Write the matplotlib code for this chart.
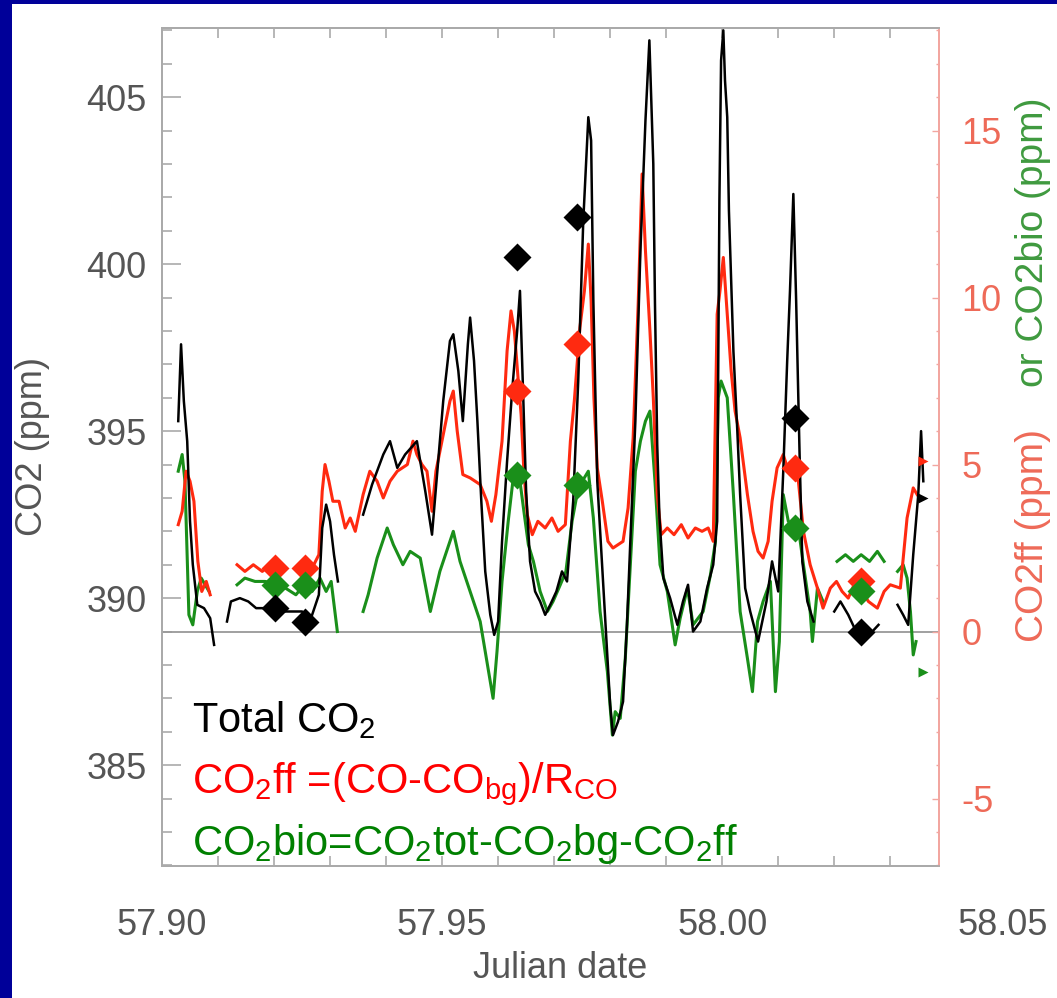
import numpy as np
import matplotlib
matplotlib.use('Agg')
import matplotlib.pyplot as plt
from matplotlib.patches import Rectangle
from matplotlib.ticker import MultipleLocator
from matplotlib import transforms

plt.rcParams['font.family'] = ['Liberation Sans', 'DejaVu Sans']
plt.rcParams['mathtext.default'] = 'regular'
plt.rcParams['axes.unicode_minus'] = False

# %%
# Data (nan = gap in the record)

nan = np.nan

# total CO2 (ppm, left axis)
tot_date = [57.9029, 57.9034, 57.9039, 57.9045, 57.9050, 57.9055, 57.9063, 57.9075, 57.9086, 57.9093, 57.9100,
            57.9116, 57.9123, 57.9139, 57.9154, 57.9168, 57.9182, 57.9202, 57.9229, 57.9250, 57.9264, 57.9280,
            57.9286, 57.9293, 57.9300, 57.9307, 57.9314, 57.9330,
            57.9359, 57.9375, 57.9395, 57.9407, 57.9420, 57.9434, 57.9455, 57.9470, 57.9482, 57.9493, 57.9502,
            57.9514, 57.9520, 57.9529, 57.9537, 57.9546, 57.9550, 57.9557, 57.9563, 57.9570, 57.9577, 57.9586,
            57.9593, 57.9600, 57.9607, 57.9616, 57.9625, 57.9634, 57.9639, 57.9645, 57.9650, 57.9657, 57.9666,
            57.9675, 57.9684, 57.9693, 57.9704, 57.9714, 57.9723, 57.9734, 57.9743, 57.9752, 57.9761, 57.9766,
            57.9770, 57.9777, 57.9788, 57.9800, 57.9805, 57.9814, 57.9823, 57.9830, 57.9836, 57.9845, 57.9854,
            57.9863, 57.9870, 57.9877, 57.9880, 57.9884, 57.9888, 57.9895, 57.9907, 57.9920, 57.9930, 57.9939,
            57.9948, 57.9961, 57.9973, 57.9984, 57.9991, 57.9995, 57.9998, 58.0002, 58.0005, 58.0009, 58.0012,
            58.0020, 58.0027, 58.0032, 58.0041, 58.0050, 58.0064, 58.0079, 58.0089, 58.0100, 58.0109, 58.0116,
            58.0121, 58.0127, 58.0132, 58.0138, 58.0143, 58.0152, 58.0163, 58.0180,
            58.0200, 58.0211, 58.0225, 58.0239, 58.0254, 58.0268, 58.0279, 58.0295,
            58.0313, 58.0323, 58.0332, 58.0341, 58.0350, 58.0355, 58.0359]
tot_co2 = [395.3, 397.6, 395.9, 394.7, 392.3, 391.0, 389.8, 389.7, 389.4, 388.6, nan,
           389.3, 389.9, 390.0, 389.9, 389.7, 389.7, 389.6, 389.6, 389.6, 389.3, 390.1,
           392.1, 392.8, 392.3, 391.3, 390.5, nan,
           392.5, 393.4, 394.3, 394.7, 393.9, 394.3, 394.7, 393.2, 391.9, 394.1, 395.9,
           397.7, 397.9, 396.8, 395.3, 397.6, 398.4, 397.1, 395.3, 392.9, 390.8, 389.5,
           388.9, 389.3, 391.7, 394.1, 396.2, 398.0, 399.2, 395.9, 393.2, 391.1, 390.2,
           389.9, 389.5, 389.8, 390.2, 390.8, 390.5, 392.9, 396.5, 401.3, 404.4, 403.7,
           398.9, 393.5, 390.3, 386.8, 385.9, 386.3, 386.9, 389.2, 391.7, 395.3, 400.4,
           404.3, 406.7, 403.0, 398.8, 394.6, 392.4, 390.6, 390.0, 389.2, 389.9, 390.4,
           389.0, 389.3, 390.3, 391.0, 392.3, 401.9, 406.1, 407.0, 405.5, 404.4, 401.6,
           397.4, 395.0, 393.1, 390.3, 389.6, 388.7, 389.9, 391.1, 390.2, 393.8, 397.1,
           399.2, 402.1, 398.9, 394.4, 391.1, 389.9, 389.3, nan,
           389.6, 389.9, 389.5, 389.0, 388.9, 389.0, 389.2, nan,
           389.8, 389.5, 389.2, 391.3, 393.1, 395.0, 393.5]

# fossil fuel CO2 (ppm, right axis)
ff_date = [57.9029, 57.9036, 57.9043, 57.9050, 57.9057, 57.9064, 57.9071, 57.9079, 57.9086, 57.9100,
           57.9134, 57.9148, 57.9163, 57.9179, 57.9193, 57.9211, 57.9230,
           57.9245, 57.9259, 57.9271, 57.9280, 57.9286, 57.9291, 57.9298, 57.9305, 57.9316, 57.9327,
           57.9336, 57.9345, 57.9359, 57.9371, 57.9384, 57.9395, 57.9407, 57.9420, 57.9438, 57.9448,
           57.9455, 57.9464, 57.9473, 57.9482, 57.9489, 57.9502, 57.9514, 57.9520, 57.9527, 57.9537,
           57.9550, 57.9568, 57.9580, 57.9588, 57.9596, 57.9607, 57.9616, 57.9623, 57.9629, 57.9636,
           57.9641, 57.9646, 57.9652, 57.9661, 57.9671, 57.9684, 57.9696, 57.9707, 57.9720, 57.9729,
           57.9736, 57.9746, 57.9754, 57.9761, 57.9766, 57.9771, 57.9777, 57.9786, 57.9796, 57.9805,
           57.9814, 57.9823, 57.9832, 57.9841, 57.9850, 57.9857, 57.9863, 57.9871, 57.9877, 57.9884,
           57.9891, 57.9902, 57.9914, 57.9927, 57.9939, 57.9952, 57.9964, 57.9975, 57.9984, 57.9991,
           57.9996, 58.0002, 58.0009, 58.0016, 58.0023, 58.0032, 58.0045, 58.0055, 58.0064, 58.0073,
           58.0082, 58.0089, 58.0098, 58.0109, 58.0118, 58.0136, 58.0145, 58.0157, 58.0170, 58.0180,
           58.0193, 58.0204, 58.0214, 58.0225, 58.0238, 58.0250, 58.0261, 58.0277, 58.0289, 58.0300,
           58.0318, 58.0330, 58.0341, 58.0348]
ff_co2 = [3.2, 3.6, 4.8, 4.5, 3.9, 2.1, 1.2, 1.5, 1.1, nan,
          2.0, 1.8, 2.0, 1.8, 2.0, 1.8, nan,
          1.9, 2.1, 2.0, 2.3, 4.2, 5.0, 4.5, 3.9, 3.9, 3.1,
          3.4, 3.0, 4.1, 4.8, 4.5, 4.0, 4.5, 4.8, 5.0, 5.7,
          5.3, 5.0, 4.8, 3.6, 4.8, 5.9, 6.9, 7.2, 6.0, 4.7,
          4.6, 4.4, 3.9, 3.3, 4.1, 5.7, 8.4, 9.6, 9.0, 7.5,
          6.5, 4.8, 3.5, 2.9, 3.3, 3.1, 3.4, 3.0, 3.2, 5.7,
          6.9, 9.1, 10.2, 11.6, 9.9, 7.0, 4.9, 3.9, 2.7, 2.5,
          2.6, 2.7, 3.7, 5.8, 9.8, 13.7, 11.4, 9.0, 7.0, 4.1,
          2.9, 3.1, 2.9, 3.2, 2.8, 3.1, 3.0, 3.1, 2.7, 9.5,
          10.2, 11.2, 9.5, 7.8, 6.6, 5.8, 4.1, 3.0, 2.4, 2.2,
          2.7, 3.9, 4.9, 5.3, 4.8, 4.5, 3.0, 2.0, 1.3, 0.7,
          1.3, 1.5, 1.2, 1.0, 1.5, 1.2, 0.9, 0.7, 1.2, 1.4,
          1.3, 3.4, 4.3, 4.1]

# biospheric CO2 (ppm, right axis)
bio_date = [57.9029, 57.9036, 57.9041, 57.9048, 57.9055, 57.9063, 57.9070, 57.9077, 57.9084, 57.9100,
            57.9134, 57.9148, 57.9166, 57.9184, 57.9211,
            57.9239, 57.9254, 57.9268, 57.9282, 57.9293, 57.9302, 57.9313, 57.9330,
            57.9359, 57.9368, 57.9384, 57.9402, 57.9413, 57.9430, 57.9443, 57.9461, 57.9479, 57.9496,
            57.9514, 57.9520, 57.9532, 57.9550, 57.9568, 57.9580, 57.9591, 57.9598, 57.9607, 57.9618,
            57.9627, 57.9639, 57.9646, 57.9654, 57.9663, 57.9675, 57.9688, 57.9698, 57.9711, 57.9721,
            57.9732, 57.9743, 57.9761, 57.9770, 57.9782, 57.9795, 57.9804, 57.9809, 57.9818, 57.9827,
            57.9836, 57.9845, 57.9854, 57.9863, 57.9871, 57.9880, 57.9889, 57.9902, 57.9916, 57.9925,
            57.9938, 57.9948, 57.9966, 57.9979, 57.9988, 57.9993, 57.9998, 58.0009, 58.0020, 58.0032,
            58.0045, 58.0054, 58.0063, 58.0073, 58.0086, 58.0095, 58.0102, 58.0109, 58.0118, 58.0136,
            58.0145, 58.0157, 58.0161, 58.0170, 58.0180, 58.0192,
            58.0205, 58.0220, 58.0234, 58.0248, 58.0263, 58.0277, 58.0289, 58.0300,
            58.0313, 58.0323, 58.0330, 58.0336, 58.0341, 58.0346]
bio_co2 = [4.8, 5.3, 4.5, 0.5, 0.2, 1.2, 1.6, 1.4, 1.2, nan,
           1.4, 1.6, 1.5, 1.5, 1.4,
           1.1, 1.4, 1.2, 1.6, 1.2, 1.5, 0.0, nan,
           0.6, 1.1, 2.2, 3.1, 2.6, 2.0, 2.4, 2.2, 0.6, 1.8,
           2.7, 3.0, 2.1, 1.2, 0.3, -0.9, -2.0, -0.6, 1.5, 3.3,
           4.6, 4.5, 3.6, 2.6, 2.1, 1.2, 0.6, 0.9, 1.4, 1.8,
           3.3, 4.3, 4.8, 3.4, 0.6, -1.2, -3.1, -2.4, -2.6, -0.8,
           2.0, 4.8, 5.7, 6.3, 6.6, 4.5, 2.0, 1.2, -0.4, 0.4,
           1.3, 0.2, 0.6, 1.7, 2.7, 7.0, 7.5, 7.0, 4.1, 0.6,
           -0.8, -1.8, 0.3, 0.9, 1.5, -1.8, -0.3, 4.1, 3.3, 3.1,
           2.0, 0.6, -0.3, 1.3, 0.9, nan,
           2.1, 2.3, 2.1, 2.3, 2.1, 2.4, 2.1, nan,
           1.8, 2.0, 1.6, 0.6, -0.7, -0.3]

# flask samples (big diamonds)
flask_date = [57.9202, 57.9255, 57.9634, 57.9741, 58.0130, 58.0248]
flask_tot = [389.7, 389.3, 400.2, 401.4, 395.4, 389.0]
flask_ff = [1.9, 1.9, 7.2, 8.6, 4.9, 1.5]
flask_bio = [1.4, 1.4, 4.7, 4.4, 3.1, 1.2]

# off-scale markers at the right edge
edge_date = 58.0358
edge_tot = 393.0
edge_ff = 5.1
edge_bio = -1.2

x_ticks = [57.90, 57.95, 58.00]
x_tick_labels = ['57.90', '57.95', '58.00']
x_extra_label = 58.05

# %%
# Figure

fig = plt.figure(figsize=(10.57, 9.98), dpi=100)
fig.patch.set_facecolor('#000099')
fig.patches.append(Rectangle((12 / 1057, 0), 1, 994 / 998, transform=fig.transFigure,
                             facecolor='white', edgecolor='none', zorder=-10))

ax = fig.add_axes([162 / 1057, 132 / 998, 777 / 1057, 838 / 998])
ax2 = ax.twinx()

ax.set_xlim(57.90, 58.0387)
ax.set_ylim(381.98, 407.07)
ax2.set_ylim(-7.02, 18.07)

grey = '#555555'
spine_grey = '#aaaaaa'
salmon = '#ee6a58'
red = '#ff2a10'
green = '#1a8f1a'

for a in (ax, ax2):
    for s in ('left', 'bottom', 'top'):
        a.spines[s].set_color(spine_grey)
        a.spines[s].set_linewidth(1.3)
    a.spines['right'].set_color('#f2a6a0')
    a.spines['right'].set_linewidth(1.3)

ax.xaxis.set_major_locator(plt.FixedLocator(x_ticks))
ax.set_xticklabels(x_tick_labels)
ax.xaxis.set_minor_locator(MultipleLocator(0.01))
ax.yaxis.set_major_locator(MultipleLocator(5))
ax.yaxis.set_minor_locator(MultipleLocator(1))
ax.tick_params(axis='x', which='both', direction='in', top=True, length=7, width=1.2,
               color=spine_grey, labelsize=26, labelcolor=grey, pad=30)
ax.tick_params(axis='y', which='major', direction='in', length=14, width=1.2,
               color=spine_grey, labelsize=26, labelcolor=grey, pad=11)
ax.tick_params(axis='y', which='minor', direction='in', length=7, width=1.2, color=spine_grey)

ax2.yaxis.set_major_locator(MultipleLocator(5))
ax2.yaxis.set_minor_locator(MultipleLocator(1))
ax2.tick_params(axis='y', which='major', direction='in', length=5, width=1.0,
                color='#f2a6a0', labelsize=26, labelcolor=salmon, pad=16)
ax2.tick_params(axis='y', which='minor', direction='in', length=2.5, width=1.0, color='#f2a6a0')

# label for 58.05 sits past the end of the axis
lab_tr = transforms.offset_copy(transforms.blended_transform_factory(ax.transData, ax.transAxes),
                                fig=fig, x=0, y=-30, units='points')
ax.text(x_extra_label, 0, '58.05', transform=lab_tr, ha='center', va='top',
        fontsize=26, color=grey, clip_on=False)

# zero line of the right axis
ax2.axhline(0, color='#999999', lw=1.3, zorder=1)

# time series
ax2.plot(bio_date, bio_co2, color=green, lw=2.2, zorder=2)
ax2.plot(ff_date, ff_co2, color=red, lw=2.2, zorder=3)
ax2.plot(tot_date, tot_co2, color='black', lw=1.8, zorder=4, transform=ax.transData)

# flask diamonds
ax2.plot(flask_date, flask_ff, 'D', color=red, ms=14, mec='none', zorder=5)
ax2.plot(flask_date, flask_bio, 'D', color=green, ms=14, mec='none', zorder=6)
ax2.plot(flask_date, flask_tot, 'D', color='black', ms=14, mec='none', zorder=7,
         transform=ax.transData)

ax2.plot([edge_date], [edge_ff], '>', color=red, ms=7, mec='none', zorder=5, clip_on=False)
ax2.plot([edge_date], [edge_bio], '>', color=green, ms=7, mec='none', zorder=5, clip_on=False)
ax2.plot([edge_date], [edge_tot], '>', color='black', ms=7, mec='none', zorder=5,
         clip_on=False, transform=ax.transData)

# axis titles
fig.text(560 / 1057, 1 - 968 / 998, 'Julian date', ha='center', va='center', fontsize=26, color=grey)
fig.text(33 / 1057, 1 - 447 / 998, 'CO2 (ppm)', ha='center', va='center', rotation=90,
         fontsize=26, color=grey)
fig.text(1033 / 1057, 1 - 535 / 998, 'CO2ff (ppm)', ha='center', va='center', rotation=90,
         fontsize=28, color=salmon)
fig.text(1033 / 1057, 1 - 242 / 998, 'or CO2bio (ppm)', ha='center', va='center', rotation=90,
         fontsize=28, color='#3f9a3f')

# legend text
fig.text(192 / 1057, 1 - 732 / 998, 'Total CO$_2$', ha='left', va='baseline', fontsize=30, color='black')
fig.text(192 / 1057, 1 - 793 / 998, 'CO$_2$ff =(CO-CO$_{bg}$)/R$_{CO}$', ha='left', va='baseline',
         fontsize=30, color='#ff0000')
fig.text(192 / 1057, 1 - 855 / 998, 'CO$_2$bio=CO$_2$tot-CO$_2$bg-CO$_2$ff', ha='left', va='baseline',
         fontsize=30, color='#008000')

fig.savefig('out.png', dpi=100, facecolor=fig.get_facecolor())
